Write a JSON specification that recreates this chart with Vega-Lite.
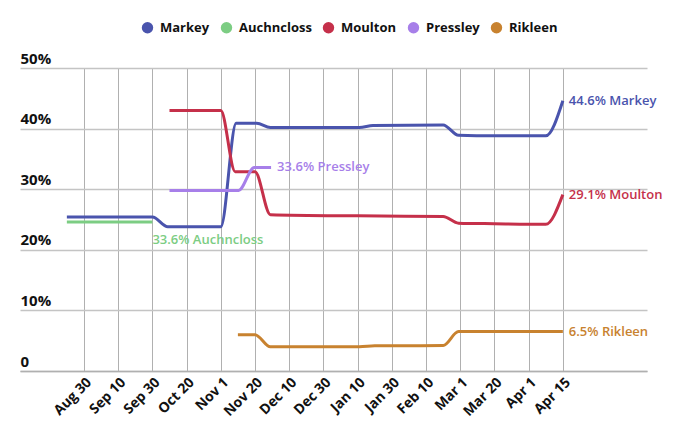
{
  "$schema": "https://vega.github.io/schema/vega-lite/v6.json",
  "width": 627,
  "height": 303,
  "autosize": "none",
  "padding": {"left": 20, "top": 68, "right": 33, "bottom": 76},
  "background": "white",
  "config": {
    "view": {"stroke": null},
    "font": "Open Sans",
    "axis": {"labelFont": "Open Sans", "labelColor": "#111"},
    "legend": {"labelFont": "Open Sans"}
  },
  "datasets": {
    "polls": [
      {"name": "Markey", "t": -0.5, "v": 25.4},
      {"name": "Markey", "t": 2, "v": 25.4},
      {"name": "Markey", "t": 2.45, "v": 23.8},
      {"name": "Markey", "t": 4, "v": 23.8},
      {"name": "Markey", "t": 4.45, "v": 40.9},
      {"name": "Markey", "t": 5.05, "v": 40.9},
      {"name": "Markey", "t": 5.45, "v": 40.2},
      {"name": "Markey", "t": 8.05, "v": 40.2},
      {"name": "Markey", "t": 8.45, "v": 40.5},
      {"name": "Markey", "t": 10.5, "v": 40.6},
      {"name": "Markey", "t": 10.95, "v": 38.9},
      {"name": "Markey", "t": 12, "v": 38.8},
      {"name": "Markey", "t": 13.5, "v": 38.8},
      {"name": "Markey", "t": 14, "v": 44.6},
      {"name": "Auchncloss", "t": -0.5, "v": 24.6},
      {"name": "Auchncloss", "t": 2, "v": 24.6},
      {"name": "Moulton", "t": 2.5, "v": 43.0},
      {"name": "Moulton", "t": 4.0, "v": 43.0},
      {"name": "Moulton", "t": 4.42, "v": 32.9},
      {"name": "Moulton", "t": 5.0, "v": 32.9},
      {"name": "Moulton", "t": 5.45, "v": 25.8},
      {"name": "Moulton", "t": 8, "v": 25.6},
      {"name": "Moulton", "t": 10.5, "v": 25.5},
      {"name": "Moulton", "t": 10.95, "v": 24.4},
      {"name": "Moulton", "t": 12, "v": 24.3},
      {"name": "Moulton", "t": 13.5, "v": 24.2},
      {"name": "Moulton", "t": 14, "v": 29.1},
      {"name": "Pressley", "t": 2.5, "v": 29.8},
      {"name": "Pressley", "t": 4.52, "v": 29.8},
      {"name": "Pressley", "t": 4.98, "v": 33.6},
      {"name": "Pressley", "t": 5.47, "v": 33.6},
      {"name": "Rikleen", "t": 4.5, "v": 6.0},
      {"name": "Rikleen", "t": 5.0, "v": 6.0},
      {"name": "Rikleen", "t": 5.45, "v": 4.0},
      {"name": "Rikleen", "t": 8.05, "v": 4.0},
      {"name": "Rikleen", "t": 8.5, "v": 4.15},
      {"name": "Rikleen", "t": 10.5, "v": 4.2},
      {"name": "Rikleen", "t": 10.95, "v": 6.5},
      {"name": "Rikleen", "t": 14, "v": 6.5}
    ],
    "labels": [
      {"name": "Markey", "t": 14, "v": 44.6, "label": "44.6% Markey"},
      {"name": "Moulton", "t": 14, "v": 29.1, "label": "29.1% Moulton"},
      {"name": "Rikleen", "t": 14, "v": 6.5, "label": "6.5% Rikleen"},
      {"name": "Pressley", "t": 5.47, "v": 33.6, "label": "33.6% Pressley"},
      {"name": "Auchncloss", "t": 2, "v": 24.6, "label": "33.6% Auchncloss"}
    ]
  },
  "layer": [
    {
      "data": {"name": "polls"},
      "mark": {"type": "line", "interpolate": "monotone", "strokeWidth": 3},
      "encoding": {
        "x": {
          "field": "t", "type": "quantitative",
          "scale": {"domain": [-1.87, 16.46], "nice": false, "zero": false},
          "axis": {
            "title": null,
            "values": [0,1,2,3,4,5,6,7,8,9,10,11,12,13,14],
            "labelExpr": "['Aug 30','Sep 10','Sep 30','Oct 20','Nov 1','Nov 20','Dec 10','Dec 30','Jan 10','Jan 30','Feb 10','Mar 1','Mar 20','Apr 1','Apr 15'][datum.value]",
            "labelAngle": -45,
            "labelFontSize": 14,
            "labelFontWeight": "bold",
            "labelPadding": 4,
            "labelOverlap": false,
            "labelFlush": false,
            "ticks": false,
            "tickSize": 0,
            "grid": true,
            "gridColor": "#b0b0b0",
            "domainColor": "#b0b0b0",
            "domainWidth": 1.5
          }
        },
        "y": {
          "field": "v", "type": "quantitative",
          "scale": {"domain": [0, 50], "nice": false},
          "axis": {
            "title": null,
            "values": [0, 10, 20, 30, 40, 50],
            "labelExpr": "datum.value == 0 ? '0' : datum.value + '%'",
            "labelAlign": "left",
            "labelBaseline": "bottom",
            "labelPadding": 0,
            "labelOffset": -2,
            "labelFontSize": 15,
            "labelFontWeight": "bold",
            "labelFlush": false,
            "labelOverlap": false,
            "ticks": false,
            "tickSize": 0,
            "domain": false,
            "grid": true,
            "gridColor": "#c4c4c4",
            "gridWidth": 1.5
          }
        },
        "color": {
          "field": "name", "type": "nominal",
          "scale": {
            "domain": ["Markey", "Auchncloss", "Moulton", "Pressley", "Rikleen"],
            "range": ["#4a54ad", "#7ccd83", "#c5304a", "#a77fe9", "#c8822f"]
          },
          "legend": {
            "orient": "none",
            "legendX": 121,
            "legendY": -47,
            "direction": "horizontal",
            "title": null,
            "symbolType": "circle",
            "symbolSize": 130,
            "symbolStrokeWidth": 0,
            "labelFontSize": 13,
            "labelFontWeight": "bold",
            "labelColor": "#111",
            "columnPadding": 10,
            "labelOffset": 6,
            "encode": {
              "symbols": {"update": {"fill": {"scale": "color", "field": "value"}, "fillOpacity": {"value": 1}}}
            }
          }
        }
      }
    },
    {
      "data": {"name": "labels"},
      "transform": [{"filter": "datum.name != 'Auchncloss'"}],
      "mark": {"type": "text", "align": "left", "baseline": "middle", "dx": 6, "fontSize": 13, "fontWeight": 600, "font": "Open Sans"},
      "encoding": {
        "x": {"field": "t", "type": "quantitative"},
        "y": {"field": "v", "type": "quantitative"},
        "text": {"field": "label"},
        "color": {"field": "name", "type": "nominal"}
      }
    },
    {
      "data": {"name": "labels"},
      "transform": [{"filter": "datum.name == 'Auchncloss'"}],
      "mark": {"type": "text", "align": "left", "baseline": "middle", "dx": 0, "dy": 18, "fontSize": 13, "fontWeight": 600, "font": "Open Sans"},
      "encoding": {
        "x": {"field": "t", "type": "quantitative"},
        "y": {"field": "v", "type": "quantitative"},
        "text": {"field": "label"},
        "color": {"field": "name", "type": "nominal"}
      }
    }
  ]
}
